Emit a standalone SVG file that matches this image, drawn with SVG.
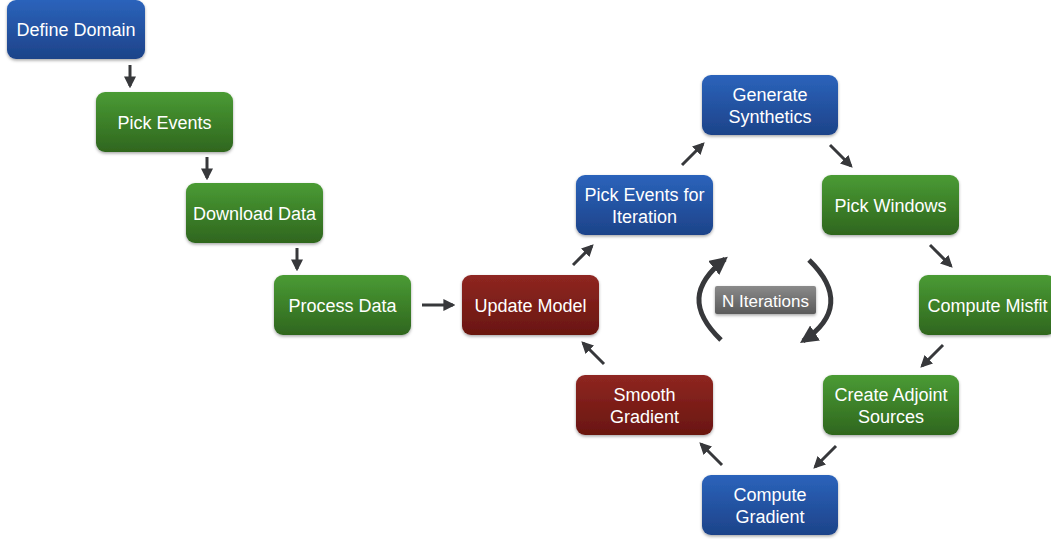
<svg xmlns="http://www.w3.org/2000/svg" width="1051" height="539" viewBox="0 0 1051 539">
<defs>
<linearGradient id="gBlue" x1="0" y1="0" x2="0" y2="1"><stop offset="0" stop-color="#2b63bb"/><stop offset="1" stop-color="#1d4389"/></linearGradient>
<linearGradient id="gGreen" x1="0" y1="0" x2="0" y2="1"><stop offset="0" stop-color="#4a9b34"/><stop offset="1" stop-color="#2f661e"/></linearGradient>
<linearGradient id="gRed" x1="0" y1="0" x2="0" y2="1"><stop offset="0" stop-color="#8f2621"/><stop offset="1" stop-color="#691610"/></linearGradient>
<linearGradient id="gGray" x1="0" y1="0" x2="0" y2="1"><stop offset="0" stop-color="#8a8a8a"/><stop offset="1" stop-color="#5a5a5a"/></linearGradient>
<filter id="sh" x="-10%" y="-10%" width="120%" height="130%"><feDropShadow dx="0" dy="1.5" stdDeviation="1.5" flood-color="#000" flood-opacity="0.35"/></filter>
<marker id="ah" viewBox="0 0 10 10" refX="8" refY="5" markerWidth="4" markerHeight="4" orient="auto" markerUnits="strokeWidth"><path d="M0,0 L10,5 L0,10 Z" fill="#37383b"/></marker>
<marker id="ah2" viewBox="0 0 10 10" refX="8" refY="5" markerWidth="3.6" markerHeight="3.6" orient="auto" markerUnits="strokeWidth"><path d="M0,0 L10,5 L0,10 Z" fill="#37383b"/></marker>
<style>
.n rect{filter:url(#sh)}
.b{fill:url(#gBlue)}
.g{fill:url(#gGreen)}
.r{fill:url(#gRed)}
.t{font-family:"Liberation Sans",Arial,sans-serif;font-size:18px;fill:#fff;text-anchor:middle}
.c line{stroke:#37383b;stroke-width:3;marker-end:url(#ah)}
.c path{stroke:#37383b;stroke-width:5;fill:none;marker-end:url(#ah2)}
</style>
</defs>
<g id="define-domain" class="n"><rect class="b" x="7" y="0" width="138" height="59" rx="9"/><text class="t" x="76" y="36">Define Domain</text></g>
<g id="pick-events" class="n"><rect class="g" x="96" y="92" width="137" height="60" rx="9"/><text class="t" x="164.5" y="128.5">Pick Events</text></g>
<g id="download-data" class="n"><rect class="g" x="186" y="183" width="137" height="60" rx="9"/><text class="t" x="254.5" y="219.5">Download Data</text></g>
<g id="process-data" class="n"><rect class="g" x="274" y="275" width="137" height="60" rx="9"/><text class="t" x="342.5" y="311.5">Process Data</text></g>
<g id="update-model" class="n"><rect class="r" x="462" y="275" width="137" height="60" rx="9"/><text class="t" x="530.5" y="311.5">Update Model</text></g>
<g id="pick-events-iter" class="n"><rect class="b" x="576" y="175" width="137" height="60" rx="9"/><text class="t" x="644.5" y="201">Pick Events for</text><text class="t" x="644.5" y="223">Iteration</text></g>
<g id="generate-synthetics" class="n"><rect class="b" x="702" y="75" width="136" height="60" rx="9"/><text class="t" x="770" y="101">Generate</text><text class="t" x="770" y="123">Synthetics</text></g>
<g id="pick-windows" class="n"><rect class="g" x="822" y="175" width="137" height="60" rx="9"/><text class="t" x="890.5" y="211.5">Pick Windows</text></g>
<g id="compute-misfit" class="n"><rect class="g" x="919" y="275" width="137" height="60" rx="9"/><text class="t" x="987.5" y="311.5">Compute Misfit</text></g>
<g id="create-adjoint" class="n"><rect class="g" x="823" y="375" width="136" height="60" rx="9"/><text class="t" x="891" y="401">Create Adjoint</text><text class="t" x="891" y="423">Sources</text></g>
<g id="compute-gradient" class="n"><rect class="b" x="702" y="475" width="136" height="60" rx="9"/><text class="t" x="770" y="501">Compute</text><text class="t" x="770" y="523">Gradient</text></g>
<g id="smooth-gradient" class="n"><rect class="r" x="576" y="375" width="137" height="60" rx="9"/><text class="t" x="644.5" y="401">Smooth</text><text class="t" x="644.5" y="423">Gradient</text></g>
<g id="connectors" class="c">
<line x1="130" y1="65" x2="130" y2="86"/>
<line x1="207" y1="157" x2="207" y2="178"/>
<line x1="297" y1="248" x2="297" y2="269"/>
<line x1="422" y1="305" x2="453" y2="305"/>
<line x1="573" y1="265" x2="592" y2="246"/>
<line x1="682" y1="165" x2="703" y2="144"/>
<line x1="830" y1="145" x2="851" y2="166"/>
<line x1="930" y1="245" x2="951" y2="266"/>
<line x1="943" y1="345" x2="922" y2="366"/>
<line x1="836" y1="446" x2="815" y2="467"/>
<line x1="722" y1="465" x2="701" y2="444"/>
<line x1="604" y1="364" x2="583" y2="343"/>
<path d="M721,340 C690,310 692,285 725,259"/>
<path d="M809,260 C840,290 838,318 803,341"/>
</g>
<g id="n-iterations"><rect x="715" y="286" width="101" height="28" rx="2" fill="url(#gGray)" filter="url(#sh)"/><text x="765.5" y="306.5" style="font-family:'Liberation Sans',Arial,sans-serif;font-size:17px;fill:#fff;text-anchor:middle">N Iterations</text></g>
</svg>
